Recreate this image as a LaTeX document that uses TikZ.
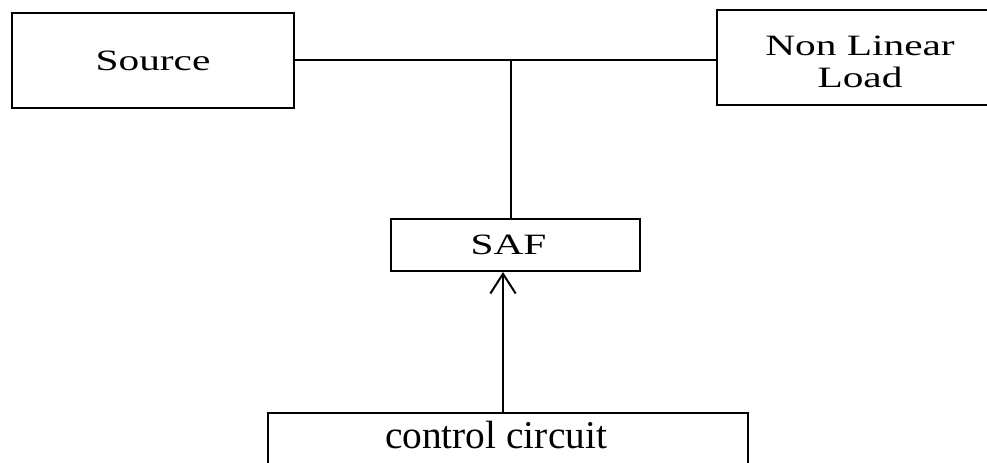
\documentclass[tikz,border=0pt]{standalone}
\usepackage{fontspec}
\setmainfont{Liberation Serif}
\newfontfamily\widefont[FakeStretch=1.4]{Liberation Serif}
\usetikzlibrary{arrows.meta}
\begin{document}
\begin{tikzpicture}[x=0.025cm, y=-0.025cm, line width=1.4pt,
  >={Straight Barb[length=14pt, width=18pt]},
  blk/.style={draw, inner sep=0pt, align=center, font=\widefont\fontsize{21}{22.8}\selectfont}]
\useasboundingbox (0,0) rectangle (987,462);
\clip (0,0) rectangle (987,462);
\node[blk, minimum width=7.05cm, minimum height=2.375cm] (src) at (153,60.5) {Source};
\node[blk, minimum width=7.15cm, minimum height=2.375cm] (nll) at (860,57.5) {\rule{0pt}{20pt}Non Linear\\Load};
\node[blk, minimum width=6.225cm, minimum height=1.3cm] (saf) at (515.5,245) {SAF\kern10pt};
\node[draw, anchor=north, minimum width=12cm, inner ysep=6.1pt, text height=19.5pt, text depth=40pt,
  font=\fontsize{28}{30}\selectfont] (ctl) at (508,412) {control circuit\kern17pt};
\coordinate (tee) at (511,60);
\coordinate (feed) at (503,0);
\draw (src.east |- tee) -- (nll.west |- tee);
\draw (tee) -- (tee |- saf.north);
\draw[->] (ctl.north -| feed) -- (saf.south -| feed);
\end{tikzpicture}
\end{document}
